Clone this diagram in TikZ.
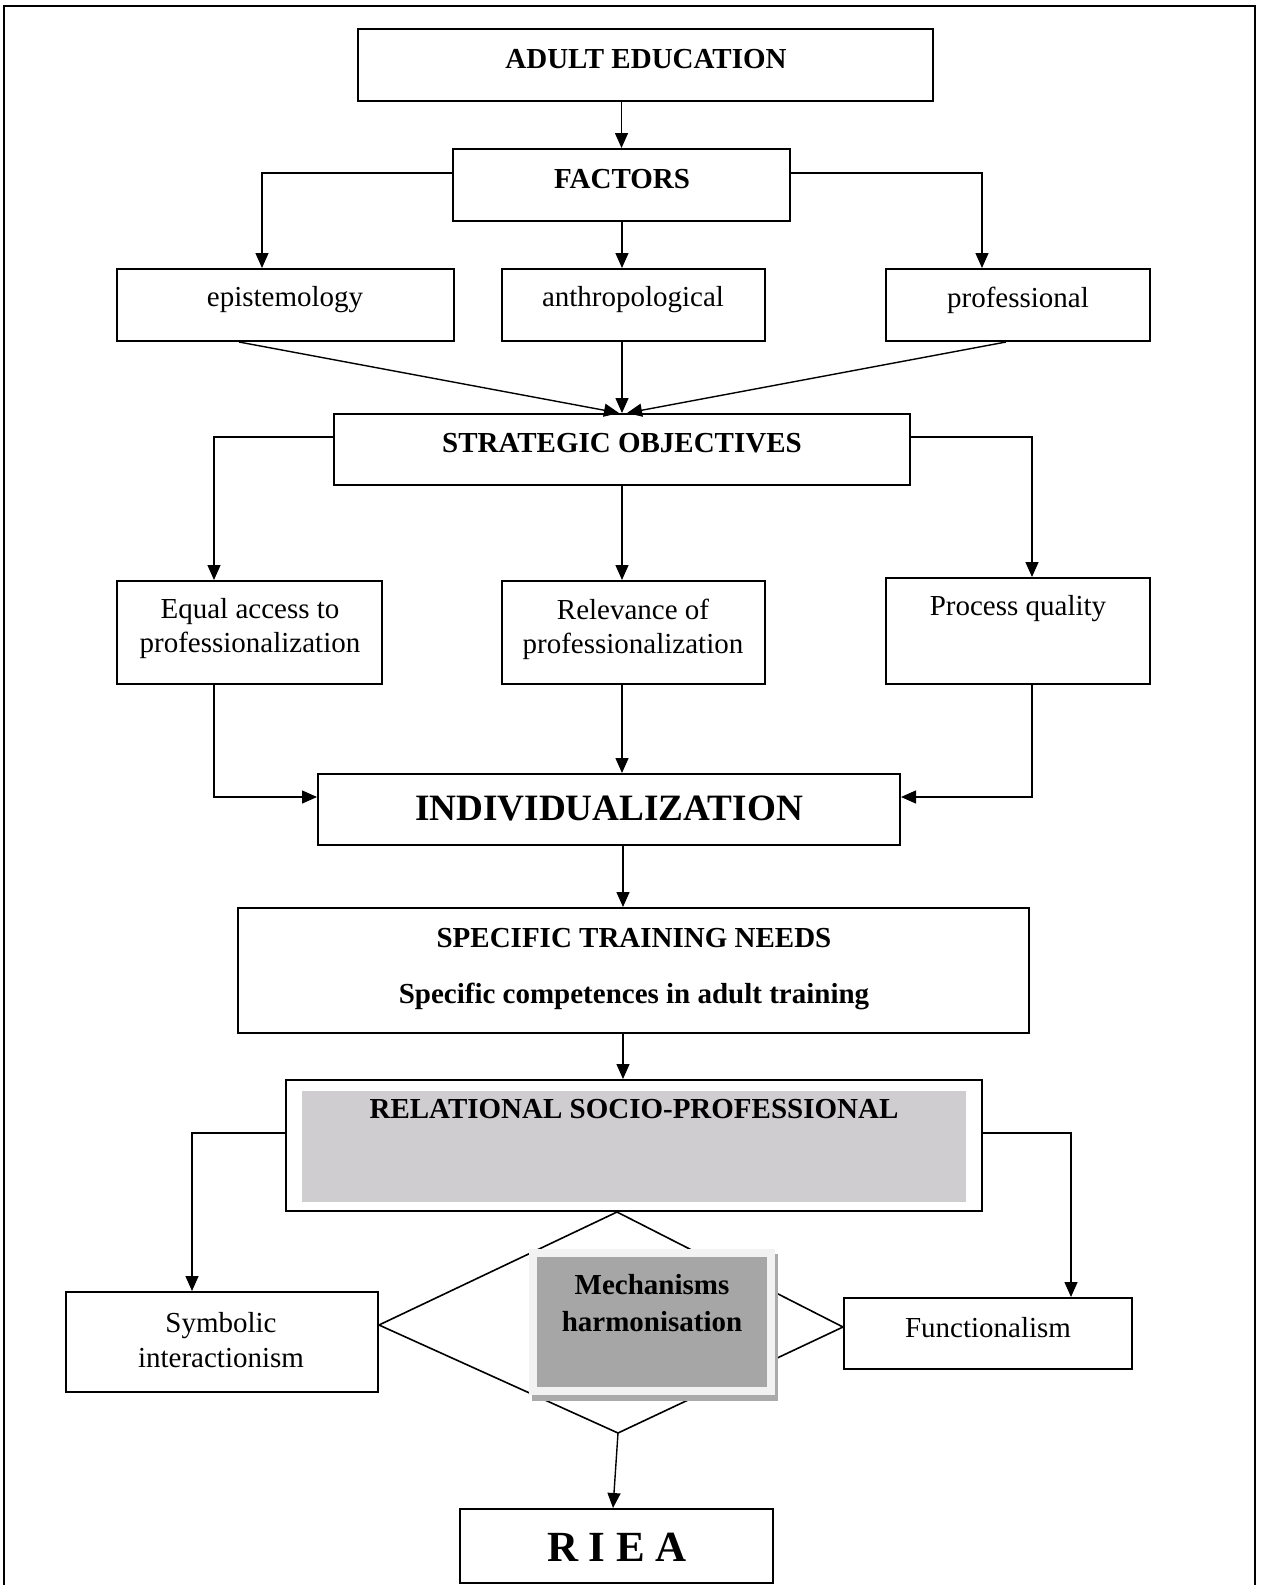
\documentclass[tikz,border=0pt]{standalone}
\usepackage{fontspec}
\setmainfont{Liberation Serif}
\usetikzlibrary{arrows.meta,calc}
\definecolor{relgray}{RGB}{207,205,207}
\definecolor{mechgray}{RGB}{166,166,166}
\definecolor{mechlight}{RGB}{242,242,242}
\definecolor{mechshadow}{RGB}{170,170,170}
\begin{document}
\begin{tikzpicture}[x=0.5pt,y=-0.5pt,
  box/.style={draw,line width=1pt,rectangle,inner sep=0pt},
  txt/.style={inner sep=0pt,font=\fontsize{14.5}{17}\selectfont,align=center},
  btxt/.style={inner sep=0pt,font=\fontsize{14.5}{17}\selectfont\bfseries,align=center},
  conn/.style={line width=0.7pt},
  arr/.style={line width=0.7pt,-{Triangle[length=7.5pt,width=6.5pt]}}]
\useasboundingbox (0,0) rectangle (1264,1585);
% outer frame
\draw[line width=0.8pt] (4,1600) -- (4,6) -- (1255,6) -- (1255,1600);
% boxes
\node[box,minimum width=287.5pt,minimum height=36pt] (adult) at (645.5,65) {};
\node[box,minimum width=168.5pt,minimum height=36pt] (factors) at (621.5,185) {};
\node[box,minimum width=168.5pt,minimum height=36pt] (epi) at (285.5,305) {};
\node[box,minimum width=131.5pt,minimum height=36pt] (anth) at (633.5,305) {};
\node[box,minimum width=132pt,minimum height=36pt] (prof) at (1018,305) {};
\node[box,minimum width=288pt,minimum height=35.5pt] (strat) at (622,449.5) {};
\node[box,minimum width=132.5pt,minimum height=51.5pt] (equal) at (249.5,632.5) {};
\node[box,minimum width=131.5pt,minimum height=51.5pt] (relev) at (633.5,632.5) {};
\node[box,minimum width=132pt,minimum height=53pt] (proc) at (1018,631) {};
\node[box,minimum width=291pt,minimum height=35.5pt] (indiv) at (609,809.5) {};
\node[box,minimum width=395.5pt,minimum height=62.5pt] (spec) at (633.5,970.5) {};
\node[box,minimum width=348pt,minimum height=65.5pt] (rel) at (634,1145.5) {};
\fill[relgray] (302,1091) rectangle (966,1202);
\node[box,minimum width=156pt,minimum height=50pt] (symb) at (222,1342) {};
\node[box,minimum width=144pt,minimum height=35.5pt] (func) at (988,1333.5) {};
\node[box,minimum width=156.5pt,minimum height=37pt] (riea) at (616.5,1546) {};
% texts
\node[btxt] (t-adult) at (646,59) {ADULT EDUCATION};
\node[btxt] (t-factors) at (622,179) {FACTORS};
\node[txt] (t-epi) at (285,300) {epistemology};
\node[txt] (t-anth) at (633,300) {anthropological};
\node[txt] (t-prof) at (1018,300) {professional};
\node[btxt] (t-strat) at (622,443) {STRATEGIC OBJECTIVES};
\node[txt] (t-equal) at (250,629) {Equal access to\\professionalization};
\node[txt] (t-relev) at (633,629) {Relevance of\\professionalization};
\node[txt] (t-proc) at (1018,609) {Process quality};
\node[inner sep=0pt,font=\fontsize{18.6}{22}\selectfont\bfseries] (t-indiv) at (609,808) {INDIVIDUALIZATION};
\node[btxt] (t-spec1) at (634,938) {SPECIFIC TRAINING NEEDS};
\node[btxt] (t-spec2) at (634,996) {Specific competences in adult training};
\node[btxt] (t-rel) at (634,1109) {RELATIONAL SOCIO-PROFESSIONAL};
\node[txt,font=\fontsize{14.5}{17.5}\selectfont] (t-symb) at (221,1340) {Symbolic\\interactionism};
\node[txt] (t-func) at (988,1328) {Functionalism};
\node[inner sep=0pt,font=\fontsize{21.5}{24}\selectfont\bfseries] (t-riea) at (617,1547) {R I E A};
% connectors
\draw[arr] (factors.north |- adult.south) -- (factors.north);
\draw[arr] (factors.west |- 0,173) -| (epi.north -| 262,0);
\draw[arr] (factors.south -| 622,0) -- (anth.north -| 622,0);
\draw[arr] (factors.east |- 0,173) -| (prof.north -| 982,0);
\draw[arr] (epi.south -| 239,0) -- (strat.north -| 619,0);
\draw[arr] (anth.south -| 622,0) -- (strat.north -| 622,0);
\draw[arr] (prof.south -| 1006,0) -- (strat.north -| 627,0);
\draw[arr] (strat.west |- 0,437) -| (equal.north -| 214,0);
\draw[arr] (strat.south -| 622,0) -- (relev.north -| 622,0);
\draw[arr] (strat.east |- 0,437) -| (proc.north -| 1032,0);
\draw[arr] (equal.south -| 214,0) |- (indiv.west |- 0,797);
\draw[arr] (relev.south -| 622,0) -- (indiv.north -| 622,0);
\draw[arr] (proc.south -| 1032,0) |- (indiv.east |- 0,797);
\draw[arr] (indiv.south -| 623,0) -- (spec.north -| 623,0);
\draw[arr] (spec.south -| 623,0) -- (rel.north -| 623,0);
\draw[arr] (rel.west |- 0,1133) -| (symb.north -| 192,0);
\draw[arr] (rel.east |- 0,1133) -| (func.north -| 1071,0);
% diamond
\coordinate (dtop) at (rel.south -| 617,0);
\coordinate (dl) at (symb.east |- 0,1325);
\coordinate (dr) at (func.west |- 0,1327);
\coordinate (db) at (618,1433);
\draw[line width=0.8pt] (dl) -- (dtop) -- (dr) -- (db) -- cycle;
\draw[arr] (db) -- (riea.north -| 613,0);
% mechanisms box
\fill[mechshadow] (532,1254) rectangle (778,1401);
\node[fill=mechlight,inner sep=0pt,minimum width=123pt,minimum height=73pt] (mech) at (652,1322) {};
\fill[mechgray] (537,1257) rectangle (767,1387);
\node[btxt,font=\fontsize{14.5}{18.5}\selectfont\bfseries] (t-mech) at (652,1303) {Mechanisms\\harmonisation};
\end{tikzpicture}
\end{document}
